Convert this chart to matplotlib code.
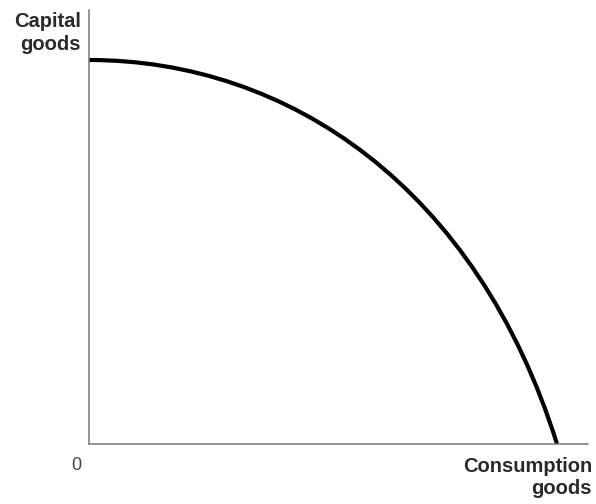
import matplotlib
matplotlib.use("Agg")
import matplotlib.pyplot as plt
from matplotlib.path import Path
from matplotlib.patches import PathPatch

# PPF curve: cubic Bezier control points
# (consumption goods, capital goods) in chart units
curve_consumption = [0, 200, 388, 468]
curve_capital = [384, 384, 256, 0]

x_label = "Consumption\ngoods"
y_label = "Capital\ngoods"
origin_label = "0"

fig = plt.figure(figsize=(5.96, 5.04), dpi=100)
ax = fig.add_axes([89/596, 60/504, 499/596, 434/504])
ax.set_xlim(0, 499)
ax.set_ylim(0, 434)

verts = list(zip(curve_consumption, curve_capital))
codes = [Path.MOVETO, Path.CURVE4, Path.CURVE4, Path.CURVE4]
ax.add_patch(PathPatch(Path(verts, codes), facecolor="none", edgecolor="black",
                       lw=3.0, capstyle="butt", clip_on=False))

for side in ["top", "right"]:
    ax.spines[side].set_visible(False)
for side in ["left", "bottom"]:
    ax.spines[side].set_color("#777777")
    ax.spines[side].set_linewidth(1.1)
ax.set_xticks([])
ax.set_yticks([])

fig.text(81/596, 1 - 12/504, y_label, ha="right", va="top", fontsize=14.5,
         fontweight="bold", color="#2a2a2a", family="Liberation Sans", linespacing=1.25)
fig.text(592/596, 1 - 457/504, x_label, ha="right", va="top", fontsize=14.5,
         fontweight="bold", color="#2a2a2a", family="Liberation Sans", linespacing=1.2)
fig.text(76/596, 1 - 457/504, origin_label, ha="center", va="top", fontsize=13,
         color="#444444", family="Liberation Sans")

fig.savefig("out.png", dpi=100)
